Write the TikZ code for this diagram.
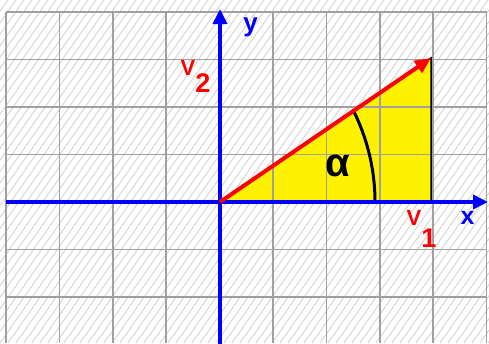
\documentclass[tikz,border=0pt]{standalone}
\usepackage{fontspec}
\setmainfont{Liberation Sans}
\usetikzlibrary{arrows.meta}
\definecolor{gridgray}{HTML}{A0A0A0}
\definecolor{hatchgray}{HTML}{D6D6D6}
\newcommand{\vsub}[1]{{\fontsize{22}{26}\selectfont V}\raisebox{-#1}{\fontsize{27}{30}\selectfont}}
\begin{document}
\begin{tikzpicture}[x=1pt,y=-1pt,
  hatch/.style={draw=hatchgray,line width=1pt},
  gridline/.style={draw=gridgray,line width=1.6pt},
  axis/.style={draw=blue,line width=4pt,-{Triangle[length=15pt,width=14pt]}},
  vec/.style={draw=red,line width=4pt,-{Triangle[length=16pt,width=14pt]}},
  lbl/.style={inner sep=0pt,font=\bfseries},
]
\useasboundingbox (0,0) rectangle (489,343);
\coordinate (O) at (220,202);
\coordinate (Xs) at (6,202);
\coordinate (Xe) at (488,202);
\coordinate (Ys) at (220,345);
\coordinate (Ye) at (220,9);
\coordinate (P) at (431,58);
\coordinate (A) at (431,202);
\coordinate (R) at (375,202);
% hatching
\begin{scope}
\clip (0,0) rectangle (489,343);
\foreach \k in {-31,...,62} \draw[hatch] (\k*8,343) -- ++(240,-343);
\end{scope}
% triangle fill
\fill[yellow] (O) -- (A) -- (P) -- cycle;
% grid
\foreach \i in {0,...,9} \draw[gridline] ({6+\i*53.4},12) -- ({6+\i*53.4},343);
\foreach \j in {0,...,6} \draw[gridline] (6,{12+\j*47.5}) -- (486.6,{12+\j*47.5});
% triangle outline
\draw[black,line width=1.5pt] (O) -- (A) -- (P) -- cycle;
% angle arc
\draw[black,line width=3pt] (R) arc[start angle=0,end angle=-27,radius=204];
% axes
\draw[axis] (Xs) -- (Xe);
\draw[axis] (Ys) -- (Ye);
% vector
\draw[vec] (O) -- (P);
% labels
\node[lbl,text=red,anchor=base west,font=\bfseries\fontsize{22}{26}\selectfont] (v2) at (180.5,75) {V\raisebox{-17pt}{\fontsize{27}{30}\selectfont 2}};
\node[lbl,text=red,anchor=base west,font=\bfseries\fontsize{22}{26}\selectfont] (v1) at (406.5,225) {V\raisebox{-22pt}{\fontsize{27}{30}\selectfont 1}};
\node[lbl,text=blue,font=\bfseries\fontsize{26}{30}\selectfont] (ylab) at (250.5,27.5) {y};
\node[lbl,text=blue,font=\bfseries\fontsize{25}{30}\selectfont] (xlab) at (467.5,217.5) {x};
\node[lbl,text=black,font=\bfseries\fontsize{40}{44}\selectfont] (alpha) at (338,166) {α};
\end{tikzpicture}
\end{document}
